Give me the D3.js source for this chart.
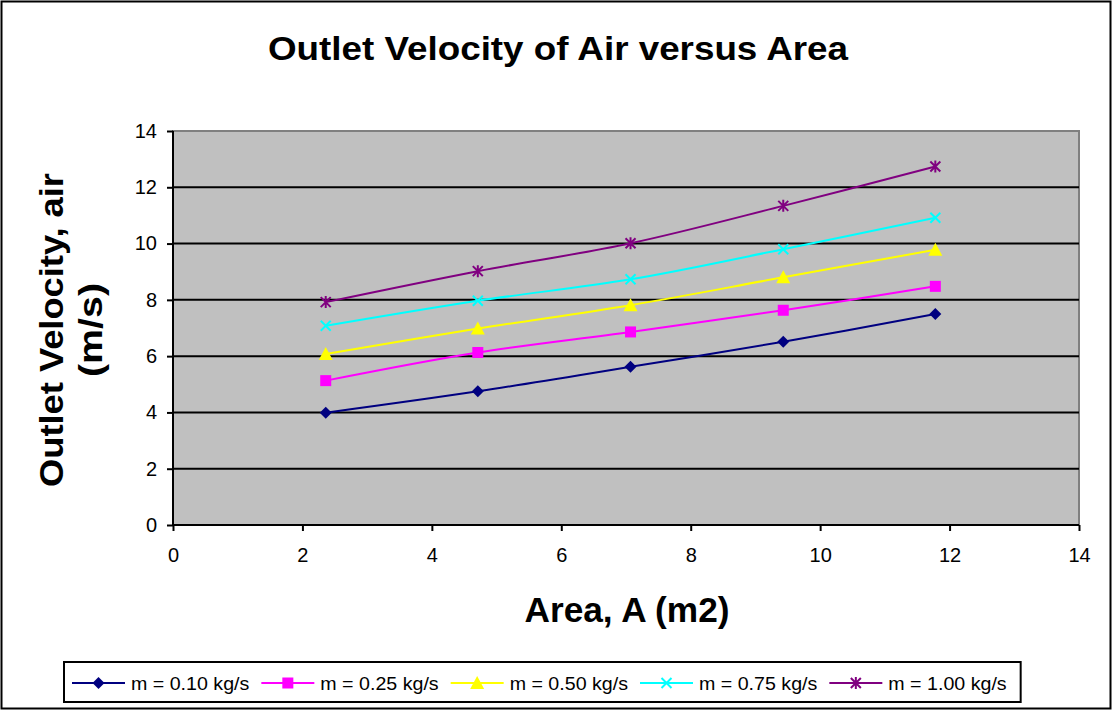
<!DOCTYPE html>
<html><head><meta charset="utf-8">
<script src="https://cdn.jsdelivr.net/npm/d3@7"></script>
<style>body{margin:0;background:#fff;}svg{display:block;font-family:"Liberation Sans",Arial,sans-serif;}</style>
</head><body><svg id="c" width="1113" height="711"></svg>
<script>
const areas = [2.36, 4.71, 7.07, 9.43, 11.78];
const seriesNames = ["m = 0.10 kg/s","m = 0.25 kg/s","m = 0.50 kg/s","m = 0.75 kg/s","m = 1.00 kg/s"];
const v010 = [3.99, 4.75, 5.62, 6.51, 7.50];
const v025 = [5.13, 6.13, 6.86, 7.63, 8.48];
const v050 = [6.08, 6.98, 7.81, 8.80, 9.78];
const v075 = [7.08, 7.97, 8.73, 9.80, 10.92];
const v100 = [7.92, 9.02, 10.01, 11.34, 12.74];
const xTicks = [0,2,4,6,8,10,12,14];
const yTicks = [0,2,4,6,8,10,12,14];
const colors = ["#000080","#FF00FF","#FFFF00","#00FFFF","#800080"];
const markers = ["diamond","square","triangle","x","star"];
const series = [v010,v025,v050,v075,v100].map((v,i)=>({name:seriesNames[i],color:colors[i],marker:markers[i],values:v.map((y,j)=>({x:areas[j],y}))}));

const svg = d3.select("#c");
const L=173,R=1079,T=131,B=525;
const x = d3.scaleLinear().domain([0,14]).range([L,R]);
const y = d3.scaleLinear().domain([0,14]).range([B,T]);

function stretch(sel, target){ sel.attr("textLength", target).attr("lengthAdjust","spacingAndGlyphs"); }

// chart border
svg.append("rect").attr("x",1.5).attr("y",1.5).attr("width",1109).attr("height",707).attr("fill","#fff").attr("stroke","#000").attr("stroke-width",2);

const title = svg.append("text").attr("x",558).attr("y",60).attr("text-anchor","middle").attr("font-weight","bold").style("font-size","34px").text("Outlet Velocity of Air versus Area");
stretch(title,580);

// plot area
svg.append("rect").attr("x",L).attr("y",T).attr("width",R-L).attr("height",B-T).attr("fill","#C0C0C0").attr("stroke","#808080").attr("stroke-width",2);

// gridlines
svg.append("g").selectAll("line").data(yTicks.filter(d=>d>0&&d<14)).join("line")
 .attr("x1",L).attr("x2",R).attr("y1",d=>y(d)).attr("y2",d=>y(d)).attr("stroke","#000").attr("stroke-width",2);

// axes
const yAxis = svg.append("g").attr("transform",`translate(${L},0)`).call(d3.axisLeft(y).tickValues(yTicks).tickSize(6).tickPadding(10).tickFormat(d3.format("d")));
const xAxis = svg.append("g").attr("transform",`translate(0,${B})`).call(d3.axisBottom(x).tickValues(xTicks).tickSize(6).tickPadding(17).tickFormat(d3.format("d")));
[yAxis,xAxis].forEach(a=>{a.attr("font-size",null).attr("font-family",null);a.select(".domain").attr("stroke","#000").attr("stroke-width",2);a.selectAll(".tick line").attr("stroke","#000").attr("stroke-width",2);a.selectAll("text").style("font-size","20px").attr("fill","#000");});
xAxis.select(".domain").attr("d",`M${L},0H${R}`);
yAxis.select(".domain").attr("d",`M0,${B}V${T}`);

// axis titles
const xt = svg.append("text").attr("x",627).attr("y",622).attr("text-anchor","middle").attr("font-weight","bold").style("font-size","35px").text("Area, A (m2)");
stretch(xt,205);
const yt = svg.append("text").attr("transform","translate(0,330) rotate(-90)").attr("text-anchor","middle").attr("font-weight","bold").style("font-size","34px");
const t1 = yt.append("tspan").attr("x",0).attr("y",63).text("Outlet Velocity, air");
const t2 = yt.append("tspan").attr("x",0).attr("y",102).text("(m/s)");
stretch(t1,314); stretch(t2,94);

function drawMarker(g,type,color,s){
  if(type==="diamond"){g.append("path").attr("d",`M0,${-s}L${s},0L0,${s}L${-s},0Z`).attr("fill",color);}
  else if(type==="square"){g.append("rect").attr("x",-s+0.5).attr("y",-s+0.5).attr("width",2*s-1).attr("height",2*s-1).attr("fill",color);}
  else if(type==="triangle"){g.append("path").attr("d",`M0,${-s-1}L${s+1},${s}L${-s-1},${s}Z`).attr("fill",color);}
  else if(type==="x"){g.append("path").attr("d",`M${-s+1},${-s+1}L${s-1},${s-1}M${s-1},${-s+1}L${-s+1},${s-1}`).attr("stroke",color).attr("stroke-width",2);}
  else if(type==="star"){g.append("path").attr("d",`M${-s+1},${-s+1}L${s-1},${s-1}M${s-1},${-s+1}L${-s+1},${s-1}M0,${-s}V${s}`).attr("stroke",color).attr("stroke-width",2);}
}

const line = d3.line().x(d=>x(d.x)).y(d=>y(d.y)).curve(d3.curveCatmullRom.alpha(0.5));
series.forEach(s=>{
  svg.append("path").attr("d",line(s.values)).attr("fill","none").attr("stroke",s.color).attr("stroke-width",2);
  s.values.forEach(p=>{const g=svg.append("g").attr("transform",`translate(${x(p.x)},${y(p.y)})`);drawMarker(g,s.marker,s.color,6);});
});

// legend
const lg = svg.append("g");
const box = lg.append("rect").attr("x",64).attr("y",662).attr("width",957).attr("height",40).attr("fill","#fff").attr("stroke","#000").attr("stroke-width",2);
let cx = 72;
const ly = 683;
series.forEach(s=>{
  lg.append("line").attr("x1",cx).attr("x2",cx+53).attr("y1",ly).attr("y2",ly).attr("stroke",s.color).attr("stroke-width",2);
  const g=lg.append("g").attr("transform",`translate(${cx+26.5},${ly})`);drawMarker(g,s.marker,s.color,6);
  const t=lg.append("text").attr("x",cx+59).attr("y",ly+7).style("font-size","18px").text(s.name);
  const w = t.node().getComputedTextLength()*1.09;
  stretch(t,w);
  cx += 59 + w + 12;
});
box.attr("width",cx-64+2);
</script></body></html>
